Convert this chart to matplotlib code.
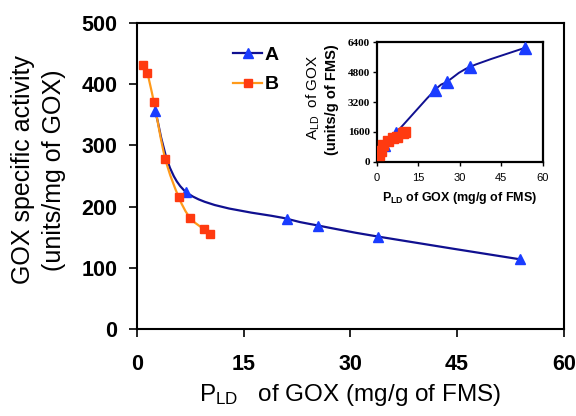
import numpy as np
import matplotlib
matplotlib.use("Agg")
import matplotlib.pyplot as plt
from matplotlib.path import Path
from matplotlib.patches import PathPatch

plt.rcParams['font.family'] = ['Liberation Sans', 'DejaVu Sans']
plt.rcParams['mathtext.default'] = 'regular'

# ---- data ----
a_x = [2.53, 6.88, 21.1, 25.5, 33.9, 53.8]
a_y = [356, 224, 180, 169, 151, 114]
b_x = [0.89, 1.45, 2.39, 3.98, 5.85, 7.44, 9.41, 10.25]
b_y = [431, 418, 370, 278, 216, 182, 163, 156]
# inset: A_LD (units/g of FMS)
ia_x = [2.53, 6.88, 21.1, 25.5, 33.9, 53.8]
ia_y = [900, 1540, 3850, 4300, 5100, 6120]
ib_x = [0.89, 1.45, 2.39, 3.98, 5.85, 7.44, 9.41, 10.25]
ib_y = [384, 606, 884, 1106, 1264, 1354, 1534, 1599]

main_xticks = [0, 15, 30, 45, 60]
main_yticks = [0, 100, 200, 300, 400, 500]
inset_xticks = [0, 15, 30, 45, 60]
inset_yticks = [0, 1600, 3200, 4800, 6400]

A_LINE = '#101090'
A_MARK = '#1a3cff'
B_LINE = '#ff9a1a'
B_MARK = '#ff3a10'


def smooth_path(xs, ys):
    """Excel-like smoothed line: Catmull-Rom segments as cubic Beziers."""
    p = np.column_stack([xs, ys]).astype(float)
    n = len(p)
    verts = [p[0]]
    codes = [Path.MOVETO]
    for i in range(n - 1):
        p0 = p[i - 1] if i > 0 else p[i]
        p1 = p[i]
        p2 = p[i + 1]
        p3 = p[i + 2] if i + 2 < n else p[i + 1]
        c1 = p1 + (p2 - p0) / 6.0
        c2 = p2 - (p3 - p1) / 6.0
        verts += [c1, c2, p2]
        codes += [Path.CURVE4] * 3
    return Path(verts, codes)


fig = plt.figure(figsize=(5.76, 4.16), dpi=100)
ax = fig.add_axes([0.2378, 0.209, 0.741, 0.736])

ax.add_patch(PathPatch(smooth_path(a_x, a_y), fill=False, color=A_LINE, lw=1.6, zorder=2))
ax.add_patch(PathPatch(smooth_path(b_x, b_y), fill=False, color=B_LINE, lw=1.6, zorder=2))
ax.plot(a_x, a_y, ls='none', marker='^', ms=7, color=A_MARK, zorder=3)
ax.plot(b_x, b_y, ls='none', marker='s', ms=6, color=B_MARK, zorder=3)

# legend entries
ax.plot([], [], color=A_LINE, lw=1.6, marker='^', ms=7, mfc=A_MARK, mec=A_MARK, label='A')
ax.plot([], [], color=B_LINE, lw=1.6, marker='s', ms=6, mfc=B_MARK, mec=B_MARK, label='B')
leg = ax.legend(loc='upper left', bbox_to_anchor=(0.185, 0.98), frameon=False,
                prop={'weight': 'bold', 'size': 14}, handlelength=1.45,
                handletextpad=0.15, labelspacing=0.6)

ax.set_xlim(0, 60)
ax.set_ylim(0, 500)
ax.set_xticks(main_xticks)
ax.set_yticks(main_yticks)
ax.tick_params(direction='out', length=6, width=1.2, labelsize=15.5, pad=8)
ax.tick_params(axis='x', pad=12)
for lab in ax.get_xticklabels() + ax.get_yticklabels():
    lab.set_fontweight('bold')
for s in ax.spines.values():
    s.set_linewidth(1.5)

ax.set_xlabel('P$_{LD}$   of GOX (mg/g of FMS)', fontsize=17.5, labelpad=5)
fig.text(23 / 576, 1 - 170 / 416, 'GOX specific activity', fontsize=18,
         rotation=90, ha='center', va='center')
fig.text(54 / 576, 1 - 170 / 416, '(units/mg of GOX)', fontsize=18,
         rotation=90, ha='center', va='center')

# ---- inset ----
ins = fig.add_axes([0.654, 0.611, 0.288, 0.287])
ins.add_patch(PathPatch(smooth_path(ia_x, ia_y), fill=False, color=A_LINE, lw=1.4, zorder=2))
ins.plot(ia_x, ia_y, ls='none', marker='^', ms=8, color=A_MARK, zorder=3)
ins.plot(ib_x, ib_y, ls='none', marker='s', ms=7.5, color=B_MARK, zorder=4)
ins.set_xlim(0, 60)
ins.set_ylim(0, 6400)
ins.set_xticks(inset_xticks)
ins.set_yticks(inset_yticks)
ins.tick_params(direction='out', length=3, width=1.0, labelsize=8, pad=2)
ins.tick_params(axis='x', pad=5)
for lab in ins.get_yticklabels():
    lab.set_fontweight('bold')
    lab.set_family(['Liberation Serif', 'DejaVu Serif'])
for lab in ins.get_xticklabels():
    lab.set_family(['Liberation Sans', 'DejaVu Sans'])
for s in ins.spines.values():
    s.set_linewidth(1.6)
ins.set_xlabel('P$_{LD}$ of GOX (mg/g of FMS)', fontsize=9, fontweight='bold', labelpad=5)
fig.text(313 / 576, 1 - 97 / 416, 'A$_{LD}$  of GOX', fontsize=11,
         rotation=90, ha='center', va='center')
fig.text(332 / 576, 1 - 100 / 416, '(units/g of FMS)', fontsize=10.5, fontweight='bold',
         rotation=90, ha='center', va='center')

fig.savefig('out.png', dpi=100)
